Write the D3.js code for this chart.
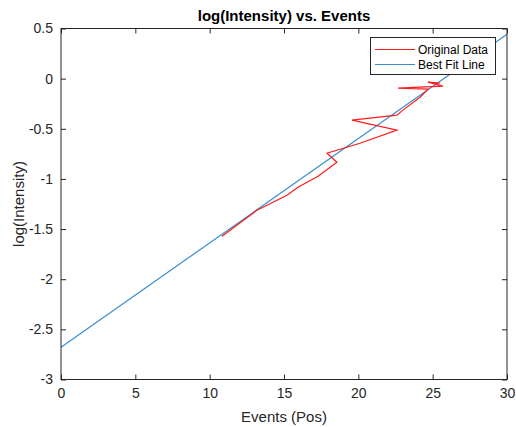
<!DOCTYPE html>
<html>
<head>
<meta charset="utf-8">
<script src="https://cdn.jsdelivr.net/npm/d3@7/dist/d3.min.js"></script>
<style>
  html, body { margin: 0; padding: 0; background: #fff; }
  svg { display: block; font-family: "Liberation Sans", Arial, sans-serif; }
</style>
</head>
<body>
<svg id="chart" width="516" height="427"></svg>
<script>
// Measured events vs log intensity
const eventsPos = [10.83, 13.18, 15.20, 15.94, 17.29, 18.56, 17.89, 20.11, 22.60, 19.57,
                   22.60, 23.00, 24.15, 24.69, 22.67, 25.69, 24.69, 25.49];
const logIntensity = [-1.571, -1.312, -1.162, -1.082, -0.973, -0.833, -0.743, -0.644, -0.514, -0.414,
                      -0.364, -0.314, -0.185, -0.105, -0.095, -0.075, -0.035, -0.045];

// Linear fit: log(I) = slope * x + intercept
const fitSlope = 0.104;
const fitIntercept = -2.678;
const fitX = [0, 30];

const xTicks = [0, 5, 10, 15, 20, 25, 30];
const yTicks = [-3, -2.5, -2, -1.5, -1, -0.5, 0, 0.5];

const svg = d3.select("#chart");
const m = { left: 61, right: 9, top: 28.5, bottom: 47.5 };
const W = 516, H = 427;
const x = d3.scaleLinear().domain([0, 30]).range([m.left, W - m.right]);
const y = d3.scaleLinear().domain([-3, 0.5]).range([H - m.bottom, m.top]);
const axisColor = "#262626";
const fitColor = "#3a8fd3";
const dataColor = "#ff1a1a";

const plot = svg.append("g");
plot.append("defs").append("clipPath").attr("id", "clip")
  .append("rect").attr("x", m.left).attr("y", m.top)
  .attr("width", x(30) - x(0)).attr("height", y(-3) - y(0.5));

const lines = plot.append("g").attr("clip-path", "url(#clip)");

// Best fit line
lines.append("path")
  .datum(fitX.map(v => [v, fitSlope * v + fitIntercept]))
  .attr("d", d3.line().x(d => x(d[0])).y(d => y(d[1])))
  .attr("fill", "none").attr("stroke", fitColor).attr("stroke-width", 1.2);

// Original data
lines.append("path")
  .datum(eventsPos.map((v, i) => [v, logIntensity[i]]))
  .attr("d", d3.line().x(d => x(d[0])).y(d => y(d[1])))
  .attr("fill", "none").attr("stroke", dataColor).attr("stroke-width", 1.2);

// Axes with inward ticks on all four sides
const tickLen = 5;
function styleAxis(g) {
  g.select(".domain").remove();
  g.selectAll(".tick line").attr("stroke", axisColor);
  g.selectAll(".tick text").attr("fill", axisColor).style("font-size", "14px")
    .style("font-family", "'Liberation Sans', Arial, sans-serif");
}
svg.append("g").attr("transform", `translate(0,${y(-3)})`)
  .call(d3.axisBottom(x).tickValues(xTicks).tickSizeInner(-tickLen).tickSizeOuter(0).tickPadding(9).tickFormat(d3.format("d")))
  .call(styleAxis);
svg.append("g").attr("transform", `translate(0,${y(0.5)})`)
  .call(d3.axisTop(x).tickValues(xTicks).tickSizeInner(-tickLen).tickSizeOuter(0).tickFormat(""))
  .call(styleAxis);
svg.append("g").attr("transform", `translate(${x(0)},0)`)
  .call(d3.axisLeft(y).tickValues(yTicks).tickSizeInner(-tickLen).tickSizeOuter(0).tickPadding(8).tickFormat(d => d3.format("")(d).replace("−", "-")))
  .call(styleAxis);
svg.append("g").attr("transform", `translate(${x(30)},0)`)
  .call(d3.axisRight(y).tickValues(yTicks).tickSizeInner(-tickLen).tickSizeOuter(0).tickFormat(""))
  .call(styleAxis);

// Axes box
svg.append("rect")
  .attr("x", x(0)).attr("y", y(0.5))
  .attr("width", x(30) - x(0)).attr("height", y(-3) - y(0.5))
  .attr("fill", "none").attr("stroke", axisColor).attr("stroke-width", 1);

// Title and labels
svg.append("text").attr("x", (x(0) + x(30)) / 2).attr("y", 20.5)
  .attr("text-anchor", "middle").attr("fill", "#000")
  .style("font-size", "15px").style("font-weight", "bold")
  .text("log(Intensity) vs. Events");
svg.append("text").attr("x", (x(0) + x(30)) / 2).attr("y", 422)
  .attr("text-anchor", "middle").attr("fill", axisColor)
  .style("font-size", "15px")
  .text("Events (Pos)");
svg.append("text")
  .attr("transform", `translate(24,${(y(-3) + y(0.5)) / 2}) rotate(-90)`)
  .attr("text-anchor", "middle").attr("fill", axisColor)
  .style("font-size", "15px")
  .text("log(Intensity)");

// Legend
const leg = svg.append("g");
leg.append("rect").attr("x", 370.5).attr("y", 37.5).attr("width", 125).attr("height", 37)
  .attr("fill", "#fff").attr("stroke", axisColor).attr("stroke-width", 1);
const legItems = [
  { label: "Original Data", color: dataColor, cy: 49.5 },
  { label: "Best Fit Line", color: fitColor, cy: 64.5 }
];
legItems.forEach(it => {
  leg.append("line").attr("x1", 375).attr("x2", 415).attr("y1", it.cy).attr("y2", it.cy)
    .attr("stroke", it.color).attr("stroke-width", 1.2);
  leg.append("text").attr("x", 418).attr("y", it.cy + 4.5)
    .attr("fill", "#000").style("font-size", "12px").text(it.label);
});
</script>
</body>
</html>
